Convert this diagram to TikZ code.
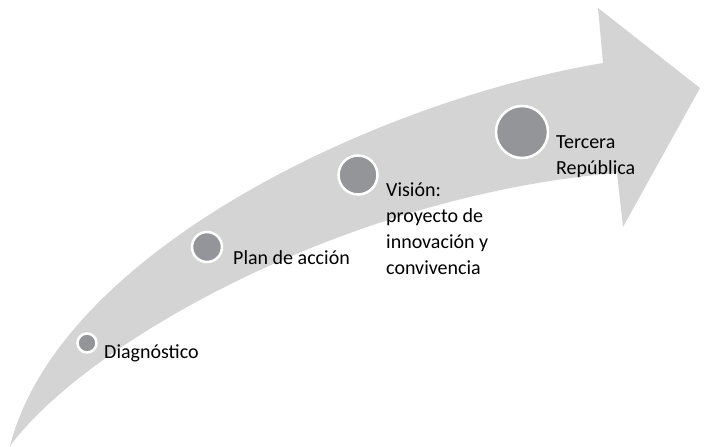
\documentclass[tikz,border=0pt]{standalone}
\usepackage{fontspec}
\setmainfont{Carlito}
\definecolor{arrowgray}{HTML}{D4D4D4}
\definecolor{dotgray}{HTML}{939598}
\begin{document}
\begin{tikzpicture}[x=1pt,y=-1pt,
  dot/.style={circle,fill=dotgray,draw=white,line width=2.5pt,inner sep=0pt,minimum size=#1},
  lbl/.style={anchor=west,inner sep=0pt,align=left,font=\fontsize{20}{26}\selectfont}]
\useasboundingbox (0,0) rectangle (707,447);
% big curved arrow
\fill[arrowgray] (10,446) .. controls (60,250) and (380,100) .. (603,63)
  -- (598,8) -- (700,88) -- (623,227) -- (617,173)
  .. controls (349,195) and (88,341) .. (10,446) -- cycle;
% milestones
\node[dot=19pt] (d1) at (87,343) {};
\node[dot=30pt] (d2) at (207,247) {};
\node[dot=39pt] (d3) at (358,175) {};
\node[dot=52pt] (d4) at (522,132) {};
% labels
\node[lbl] (t1) at (104,353) {Diagnóstico};
\node[lbl] (t2) at (233,258) {Plan de acción};
\node[lbl] (t3) at (386,229) {Visión:\\proyecto de\\innovación y\\convivencia};
\node[lbl] (t4) at (556,157) {Tercera\\República};
\end{tikzpicture}
\end{document}
